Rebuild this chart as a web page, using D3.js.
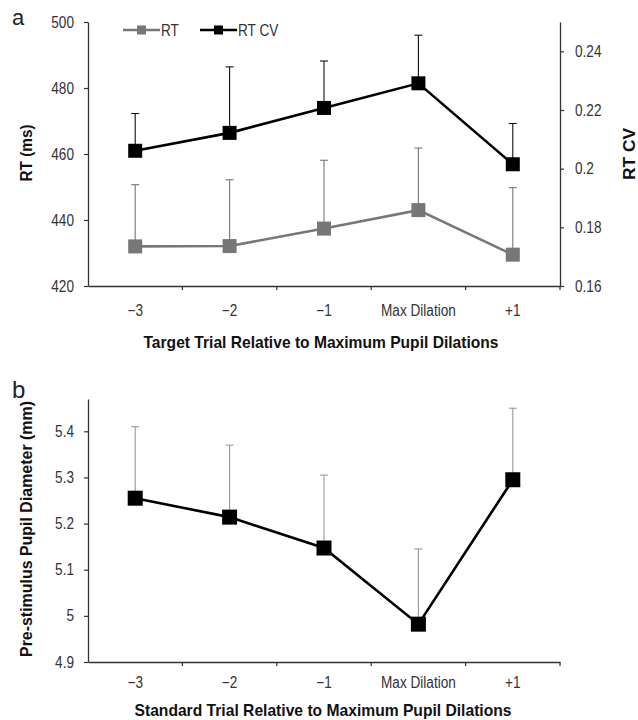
<!DOCTYPE html>
<html><head><meta charset="utf-8">
<script src="https://cdn.jsdelivr.net/npm/d3@7"></script>
<style>body{margin:0;background:#fff}svg text{font-family:"Liberation Sans",Arial,sans-serif}</style>
</head><body>
<script>
const categories = ["\u22123","\u22122","\u22121","Max Dilation","+1"];
const rtValues = [432, 432.1, 437.4, 443, 429.5];
const rtErrTop = [450.7, 452.2, 458.1, 461.8, 449.8];
const rtcvValues = [0.2061, 0.2122, 0.2207, 0.2291, 0.2015];
const rtcvErrTop = [0.2188, 0.2347, 0.2367, 0.2455, 0.2154];
const pupilValues = [5.255, 5.214, 5.147, 4.982, 5.295];
const pupilErrTop = [5.41, 5.37, 5.305, 5.145, 5.45];
const rtTicks = [420, 440, 460, 480, 500];
const rtcvTicks = [0.16, 0.18, 0.2, 0.22, 0.24];
const pupilTicks = [4.9, 5, 5.1, 5.2, 5.3, 5.4];

const W = 638, H = 720;
const svg = d3.select("body").append("svg").attr("width", W).attr("height", H);

const x = d3.scaleBand().domain(categories).range([88, 560]).paddingInner(0).paddingOuter(0);
const cx = d => x(d) + x.bandwidth() / 2;

function narrow(sel, f) {
  sel.each(function () {
    const L = this.getComputedTextLength();
    d3.select(this).attr("textLength", L * f).attr("lengthAdjust", "spacingAndGlyphs");
  });
}

function boldText(g, txt, tx, ty, len, rot) {
  return g.append("text")
    .attr("transform", `translate(${tx},${ty})` + (rot ? " rotate(-90)" : ""))
    .attr("text-anchor", "middle").attr("textLength", len).attr("lengthAdjust", "spacingAndGlyphs")
    .style("font-size", "17px").style("font-weight", "bold").attr("fill", "#111").text(txt);
}

function xAxis(g, y0, pad) {
  const ax = g.append("g").attr("transform", `translate(0,${y0})`)
    .call(d3.axisBottom(x).tickSize(0).tickPadding(pad));
  ax.select(".domain").attr("stroke", "#333").attr("stroke-width", 1.3);
  ax.selectAll("text").attr("fill", "#333").style("font-size", "16px");
  narrow(ax.selectAll("text"), 0.85);
  const bounds = categories.map(c => x(c)).concat([x.range()[1]]);
  ax.selectAll(".btick").data(bounds.slice(1)).join("line")
    .attr("x1", d => d).attr("x2", d => d).attr("y1", 0).attr("y2", 4)
    .attr("stroke", "#333").attr("stroke-width", 1.2);
}

function styleY(ax) {
  ax.select(".domain").attr("stroke", "#333").attr("stroke-width", 1.3);
  ax.selectAll(".tick line").attr("stroke", "#333").attr("stroke-width", 1.2);
  ax.selectAll("text").attr("fill", "#333").style("font-size", "16px");
  narrow(ax.selectAll("text"), 0.85);
}

function errBars(g, tops, vals, yS, color) {
  g.selectAll(null).data(categories).join("line")
    .attr("x1", d => cx(d)).attr("x2", d => cx(d))
    .attr("y1", (d, i) => yS(vals[i])).attr("y2", (d, i) => yS(tops[i]))
    .attr("stroke", color).attr("stroke-width", 1.1);
  g.selectAll(null).data(categories).join("line")
    .attr("x1", d => cx(d) - 4).attr("x2", d => cx(d) + 4)
    .attr("y1", (d, i) => yS(tops[i])).attr("y2", (d, i) => yS(tops[i]))
    .attr("stroke", color).attr("stroke-width", 1.1);
}

function series(g, vals, yS, color, size) {
  const line = d3.line().x((d, i) => cx(categories[i])).y(d => yS(d));
  g.append("path").datum(vals).attr("d", line).attr("fill", "none")
    .attr("stroke", color).attr("stroke-width", 2.6);
  g.selectAll(null).data(vals).join("rect")
    .attr("x", (d, i) => cx(categories[i]) - size / 2).attr("y", d => yS(d) - size / 2)
    .attr("width", size).attr("height", size).attr("fill", color);
}

// Panel a
const ga = svg.append("g");
const yRT = d3.scaleLinear().domain([420, 500]).range([286, 22]);
const yCV = d3.scaleLinear().domain([0.16, 0.25]).range([286, 22]);
styleY(ga.append("g").attr("transform", "translate(88,0)")
  .call(d3.axisLeft(yRT).tickValues(rtTicks).tickSize(4).tickPadding(10).tickSizeOuter(0)));
styleY(ga.append("g").attr("transform", "translate(560,0)")
  .call(d3.axisRight(yCV).tickValues(rtcvTicks).tickSize(4).tickPadding(11).tickSizeOuter(0)
    .tickFormat(d => String(+d.toFixed(2)))));
xAxis(ga, 286, 19);
boldText(ga, "Target Trial Relative to Maximum Pupil Dilations", 321, 348, 355, false);
errBars(ga, rtErrTop, rtValues, yRT, "#777");
errBars(ga, rtcvErrTop, rtcvValues, yCV, "#111");
series(ga, rtValues, yRT, "#777", 14);
series(ga, rtcvValues, yCV, "#000", 14);
boldText(ga, "RT (ms)", 32, 153, 57, true);
boldText(ga, "RT CV", 635, 154, 52, true);
ga.append("text").attr("x", 12).attr("y", 25).style("font-size", "22px").attr("fill", "#222").text("a");

// legend
const legend = [{name: "RT", color: "#777", x0: 123}, {name: "RT CV", color: "#000", x0: 200}];
legend.forEach(l => {
  ga.append("line").attr("x1", l.x0).attr("x2", l.x0 + 37).attr("y1", 30).attr("y2", 30)
    .attr("stroke", l.color).attr("stroke-width", 2.6);
  ga.append("rect").attr("x", l.x0 + 14).attr("y", 25.5).attr("width", 9).attr("height", 9).attr("fill", l.color);
  narrow(ga.append("text").attr("x", l.x0 + 38).attr("y", 36).style("font-size", "16px")
    .attr("fill", "#333").text(l.name), 0.85);
});

// Panel b
const gb = svg.append("g");
const yP = d3.scaleLinear().domain([4.9, 5.47]).range([662, 399]);
styleY(gb.append("g").attr("transform", "translate(88,0)")
  .call(d3.axisLeft(yP).tickValues(pupilTicks).tickSize(4).tickPadding(10).tickSizeOuter(0)
    .tickFormat(d => String(+d.toFixed(1)))));
xAxis(gb, 662, 15);
boldText(gb, "Standard Trial Relative to Maximum Pupil Dilations", 323, 716, 377, false);
errBars(gb, pupilErrTop, pupilValues, yP, "#999");
series(gb, pupilValues, yP, "#000", 15);
boldText(gb, "Pre-stimulus Pupil Diameter (mm)", 32, 529, 256, true);
gb.append("text").attr("x", 12).attr("y", 398).style("font-size", "24px").attr("fill", "#222").text("b");
</script>
</body></html>
